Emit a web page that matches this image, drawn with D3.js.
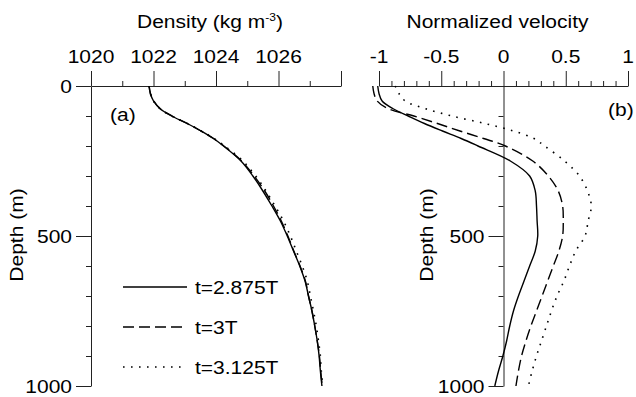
<!DOCTYPE html>
<html><head><meta charset="utf-8">
<script src="https://cdn.jsdelivr.net/npm/d3@7"></script>
<style>
html,body{margin:0;padding:0;background:#fff;}
svg{display:block;}
text{font-family:"Liberation Sans",Arial,sans-serif;fill:#000;}
</style></head>
<body>
<svg id="chart" width="636" height="397"></svg>
<script>
// ---------------- data ----------------
const depths = [0,25,50,75,100,125,150,175,200,250,300,350,400,450,500,550,600,650,700,750,800,850,900,950,1000];

// Density (kg m-3)
const densitySolid  = [1021.86,1021.90,1022.00,1022.20,1022.58,1023.08,1023.52,1023.92,1024.24,1024.80,1025.18,1025.50,1025.79,1026.06,1026.28,1026.48,1026.68,1026.85,1026.96,1027.07,1027.16,1027.24,1027.30,1027.34,1027.39];
const densityDashed = [1021.86,1021.90,1022.01,1022.21,1022.59,1023.08,1023.52,1023.92,1024.25,1024.82,1025.22,1025.56,1025.84,1026.09,1026.30,1026.49,1026.69,1026.86,1026.96,1027.07,1027.16,1027.24,1027.31,1027.35,1027.40];
const densityDotted = [1021.86,1021.90,1022.00,1022.20,1022.58,1023.08,1023.53,1023.94,1024.28,1024.86,1025.27,1025.60,1025.89,1026.16,1026.38,1026.57,1026.76,1026.92,1027.02,1027.12,1027.21,1027.28,1027.34,1027.37,1027.42];

// Normalized velocity
const velSolid  = [-1.01,-1.00,-0.975,-0.89,-0.765,-0.635,-0.49,-0.34,-0.205,0.055,0.21,0.255,0.265,0.27,0.275,0.255,0.21,0.165,0.12,0.08,0.05,0.025,-0.005,-0.04,-0.07];
const velDashed = [-1.05,-1.04,-1.015,-0.93,-0.72,-0.53,-0.35,-0.16,0.015,0.235,0.36,0.44,0.475,0.48,0.475,0.445,0.40,0.355,0.31,0.265,0.22,0.18,0.145,0.12,0.10];
const velDotted = [-0.87,-0.84,-0.79,-0.63,-0.415,-0.15,0.08,0.245,0.33,0.49,0.61,0.675,0.705,0.68,0.655,0.58,0.53,0.485,0.43,0.385,0.345,0.305,0.265,0.23,0.20];

const seriesNames = ["t=2.875T","t=3T","t=3.125T"];

const densityMajor = [1020,1022,1024,1026,1028];
const densityLabels = ["1020","1022","1024","1026",""];
const densityMinor = [1021,1023,1025,1027];
const velMajor = [-1,-0.5,0,0.5,1];
const velLabels = ["-1","-0.5","0","0.5","1"];
const velMinor = [-0.9,-0.8,-0.7,-0.6,-0.4,-0.3,-0.2,-0.1,0.1,0.2,0.3,0.4,0.6,0.7,0.8,0.9];
const depthMajor = [0,500,1000];
const depthLabelsA = ["0","500","1000"];
const depthLabelsB = ["","500","1000"];
const depthMinor = [100,200,300,400,600,700,800,900];

// ---------------- drawing ----------------
const svg = d3.select("#chart");
const FS = 21, SY = 0.9;
const axisColor = "#222";

const xDen = d3.scaleLinear().domain([1020,1028]).range([91,341]);
const xVel = d3.scaleLinear().domain([-1,1]).range([379,628]);
const yDep = d3.scaleLinear().domain([0,1000]).range([86,386]);

function txt(x, y, s, anchor, size, rot) {
  const t = svg.append("text")
    .attr("transform", `translate(${x},${y})` + (rot ? ` rotate(${rot})` : "") + ` scale(1,${SY})`)
    .attr("text-anchor", anchor || "start")
    .style("font-size", (size || FS) + "px");
  if (s !== null) t.text(s);
  return t;
}

function topAxis(x, major, labels, minor) {
  const g = svg.append("g").attr("transform", `translate(0,${yDep(0)})`);
  g.call(d3.axisTop(x).tickValues(major).tickSize(15).tickSizeOuter(0).tickFormat(""));
  g.append("g").call(d3.axisTop(x).tickValues(minor).tickSize(5).tickSizeOuter(0).tickFormat(""))
    .select(".domain").remove();
  g.selectAll("line,path").attr("stroke", axisColor);
  major.forEach((v,i) => { if (labels[i]) txt(x(v), 63, labels[i], "middle"); });
}

function leftAxis(xPos, labels) {
  const g = svg.append("g").attr("transform", `translate(${xPos},0)`);
  g.call(d3.axisLeft(yDep).tickValues(depthMajor).tickSize(15).tickSizeOuter(0).tickFormat(""));
  g.append("g").call(d3.axisLeft(yDep).tickValues(depthMinor).tickSize(5).tickSizeOuter(0).tickFormat(""))
    .select(".domain").remove();
  g.selectAll("line,path").attr("stroke", axisColor);
  depthMajor.forEach((v,i) => { if (labels[i]) txt(xPos - 19, yDep(v) + 7, labels[i], "end"); });
}

// Panel (a)
topAxis(xDen, densityMajor, densityLabels, densityMinor);
leftAxis(xDen(1020), depthLabelsA);
// Panel (b)
topAxis(xVel, velMajor, velLabels, velMinor);
leftAxis(xVel(0), depthLabelsB);

// Titles
const t1 = txt(210, 28, null, "middle");
t1.append("tspan").text("Density (kg m");
t1.append("tspan").text("-3").style("font-size","12px").attr("dy", -8);
t1.append("tspan").text(")").attr("dy", 8);
txt(xVel(0) - 6, 28, "Normalized velocity", "middle");

// Depth labels
txt(22.5, 235, "Depth (m)", "middle", FS, -90);
txt(432.5, 235, "Depth (m)", "middle", FS, -90);

// Panel labels
txt(110, 121, "(a)", "start");
txt(608, 116, "(b)", "start");

// Lines
const styles = [
  {dash: null, w: 1.4},
  {dash: "11,5", w: 1.4},
  {dash: "1.6,6.4", w: 1.6}
];
const line = (x, vals) => d3.line()
  .x((d,i) => x(vals[i]))
  .y((d) => yDep(d))
  .curve(d3.curveCatmullRom.alpha(0.5))(depths);

[densitySolid, densityDashed, densityDotted].forEach((vals, k) => {
  svg.append("path").attr("d", line(xDen, vals))
    .attr("fill","none").attr("stroke","#000")
    .attr("stroke-width", styles[k].w)
    .attr("stroke-dasharray", styles[k].dash);
});
[velSolid, velDashed, velDotted].forEach((vals, k) => {
  svg.append("path").attr("d", line(xVel, vals))
    .attr("fill","none").attr("stroke","#000")
    .attr("stroke-width", styles[k].w)
    .attr("stroke-dasharray", styles[k].dash);
});

// Legend
const legY = [287, 327, 367];
seriesNames.forEach((name, k) => {
  svg.append("line").attr("x1",123).attr("x2",187).attr("y1",legY[k]).attr("y2",legY[k])
    .attr("stroke","#000").attr("stroke-width", styles[k].w)
    .attr("stroke-dasharray", styles[k].dash);
  txt(195, legY[k] + 7, name, "start");
});
</script>
</body></html>
